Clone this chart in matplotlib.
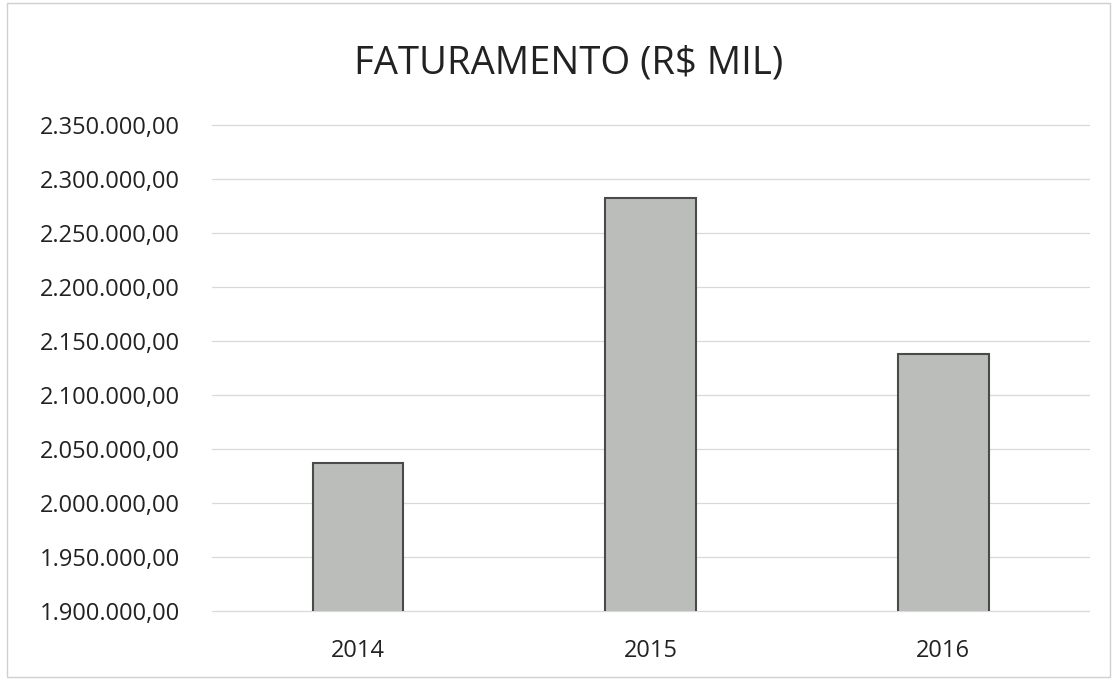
import matplotlib
matplotlib.use("Agg")
import matplotlib.pyplot as plt
from matplotlib.ticker import FuncFormatter, MultipleLocator
from matplotlib.patches import Rectangle

categories = ["2014", "2015", "2016"]
values = [2037300, 2282200, 2138400]
title = "FATURAMENTO (R$ MIL)"

plt.rcParams['font.family'] = ['Open Sans', 'DejaVu Sans']

fig = plt.figure(figsize=(11.14, 6.8), dpi=100)
ax = fig.add_axes([0.190, 0.1015, 0.788, 0.7145])

x = range(len(categories))
ax.bar(x, values, width=0.31, color="#babdb9", edgecolor="#4a4a4a", linewidth=1.5, zorder=3)

ax.set_ylim(1900000, 2350000)
ax.set_xlim(-0.5, 2.5)
ax.yaxis.set_major_locator(MultipleLocator(50000))

def br_fmt(v, pos):
    s = f"{v:,.2f}"
    return s.replace(",", "X").replace(".", ",").replace("X", ".")
ax.yaxis.set_major_formatter(FuncFormatter(br_fmt))

ax.set_xticks(list(x))
ax.set_xticklabels(categories)
ax.grid(axis="y", color="#d9d9d9", linewidth=0.9, zorder=0)
ax.set_axisbelow(True)
for gl in ax.get_ygridlines():
    gl.set_clip_on(False)
for s in ax.spines.values():
    s.set_visible(False)
ax.tick_params(axis="both", length=0, labelsize=17, colors="#222222")
ax.tick_params(axis="y", pad=23)
ax.tick_params(axis="x", pad=20)

fig.text(0.510, 0.906, title, ha="center", va="center", fontsize=27.5, color="#222222")

fig.patches.append(Rectangle((0.006, 0.005), 0.99, 0.99, transform=fig.transFigure,
                             fill=False, edgecolor="#d0d0d0", linewidth=1))

fig.savefig("out.png", dpi=100, facecolor="white")
